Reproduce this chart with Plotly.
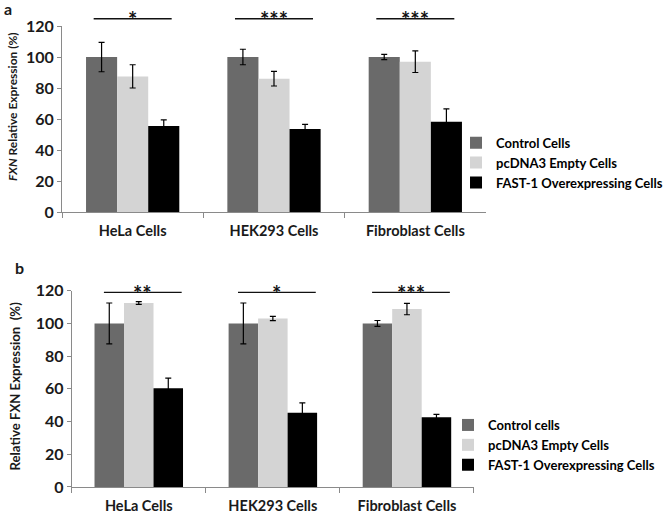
import plotly.graph_objects as go

categories = ["HeLa Cells", "HEK293 Cells", "Fibroblast Cells"]
series_a = ["Control Cells", "pcDNA3 Empty Cells", "FAST-1 Overexpressing Cells"]
series_b = ["Control cells", "pcDNA3 Empty Cells", "FAST-1 Overexpressing Cells"]

# Panel a values and errors
a_control = [100, 100, 100]
a_control_err = [9.5, 5.0, 1.7]
a_pcdna = [87.5, 86, 97]
a_pcdna_err = [7.5, 4.7, 7.0]
a_fast = [55.5, 53.5, 58.2]
a_fast_err = [4.0, 3.0, 8.3]
a_sig = ["*", "***", "***"]

# Panel b values and errors
b_control = [100, 100, 100]
b_control_err = [12.5, 12.5, 1.8]
b_pcdna = [112.5, 103, 108.8]
b_pcdna_err = [0.8, 1.3, 3.5]
b_fast = [60.3, 45.4, 42.6]
b_fast_err = [6.2, 6.0, 1.8]
b_sig = ["**", "*", "***"]

colors = ["#6a6a6a", "#d4d4d4", "#000000"]
FONT = "Lato"
TXT = "#1a1a1a"
W, H = 666, 515

fig = go.Figure()

dom_a_x = [0.0931, 0.7297]
dom_a_y = [0.5883, 0.9495]
dom_b_x = [0.1077, 0.7117]
dom_b_y = [0.0544, 0.4355]

def add_panel(vals, errs, names, xa, ya, legend):
    for v, e, n, c in zip(vals, errs, names, colors):
        fig.add_trace(go.Bar(
            x=categories, y=v, name=n, marker=dict(color=c, line=dict(width=0)),
            error_y=dict(type="data", array=e, visible=True, color="#000000",
                         thickness=1.2, width=3),
            xaxis=xa, yaxis=ya, legend=legend,
        ))

add_panel([a_control, a_pcdna, a_fast], [a_control_err, a_pcdna_err, a_fast_err],
          series_a, "x", "y", "legend")
add_panel([b_control, b_pcdna, b_fast], [b_control_err, b_pcdna_err, b_fast_err],
          series_b, "x2", "y2", "legend2")

axis_common = dict(showline=True, linecolor="#8a8a8a", linewidth=1, showgrid=False,
                   zeroline=False, ticks="outside", tickcolor="#8a8a8a",
                   automargin=False)
ytick_font = dict(family=FONT, size=16, color=TXT, weight="bold")
xtick_font = dict(family=FONT, size=14.5, color=TXT, weight="bold")

fig.update_layout(
    width=W, height=H, margin=dict(l=0, r=0, t=0, b=0, pad=0, autoexpand=False),
    plot_bgcolor="white", paper_bgcolor="white",
    barmode="group", bargap=0.34, bargroupgap=0,
    font=dict(family=FONT, color=TXT),
    xaxis=dict(domain=dom_a_x, anchor="y", type="category", tickson="boundaries",
               ticklen=5, ticklabelstandoff=6, tickfont=xtick_font, **axis_common),
    yaxis=dict(domain=dom_a_y, anchor="x", range=[0, 120], dtick=20, ticklen=4,
               tickfont=ytick_font, **axis_common),
    xaxis2=dict(domain=dom_b_x, anchor="y2", type="category", tickson="boundaries",
                ticklen=5, ticklabelstandoff=6, tickfont=xtick_font, **axis_common),
    yaxis2=dict(domain=dom_b_y, anchor="x2", range=[0, 120], dtick=20, ticklen=4,
                tickfont=ytick_font, **axis_common),
    legend=dict(x=0.6847, y=0.752, xanchor="left", yanchor="top",
                bgcolor="rgba(0,0,0,0)", itemwidth=30,
                font=dict(family=FONT, size=13, color="#000", weight="bold")),
    legend2=dict(x=0.6727, y=0.2039, xanchor="left", yanchor="top",
                 bgcolor="rgba(0,0,0,0)", itemwidth=30,
                 font=dict(family=FONT, size=13, color="#000", weight="bold")),
)

# y-axis titles
fig.add_annotation(text="<i>FXN</i> Relative Expression (%)", textangle=-90,
                   xref="paper", yref="paper", x=12.5 / W, y=1 - 106.5 / H,
                   xanchor="center", yanchor="middle", showarrow=False,
                   font=dict(family=FONT, size=12, color=TXT, weight="bold"))
fig.add_annotation(text="Relative FXN Expression \u00a0(%)", textangle=-90,
                   xref="paper", yref="paper", x=14 / W, y=1 - 386.5 / H,
                   xanchor="center", yanchor="middle", showarrow=False,
                   font=dict(family=FONT, size=13.2, color=TXT, weight="bold"))

def sig_marks(sig, dom_y, xref, level, half, offset, ymax=120):
    ypaper = dom_y[0] + (level / ymax) * (dom_y[1] - dom_y[0])
    for i, s in enumerate(sig):
        fig.add_shape(type="line", xref=xref, yref="paper",
                      x0=i - half + offset, x1=i + half + offset, y0=ypaper, y1=ypaper,
                      line=dict(color="#111", width=1.4))
        fig.add_annotation(text=s, xref=xref, yref="paper", x=i + offset, y=ypaper,
                           yanchor="middle", yshift=-1, showarrow=False,
                           font=dict(family=FONT, size=22, color="#111", weight="bold"))

sig_marks(a_sig, dom_a_y, "x", 124.7, 0.276, 0.0)
sig_marks(b_sig, dom_b_y, "x2", 119.0, 0.29, 0.03)

fig.add_annotation(text="a", xref="paper", yref="paper", x=0.003, y=1.0, yshift=3,
                   xanchor="left", yanchor="top", showarrow=False,
                   font=dict(family=FONT, size=16, color=TXT, weight="bold"))
fig.add_annotation(text="b", xref="paper", yref="paper", x=0.019, y=1 - 256 / 515,
                   xanchor="left", yanchor="top", showarrow=False,
                   font=dict(family=FONT, size=16, color=TXT, weight="bold"))

fig.write_html("out.html", config={"displayModeBar": False},
               post_script="document.body.style.margin='0';")
